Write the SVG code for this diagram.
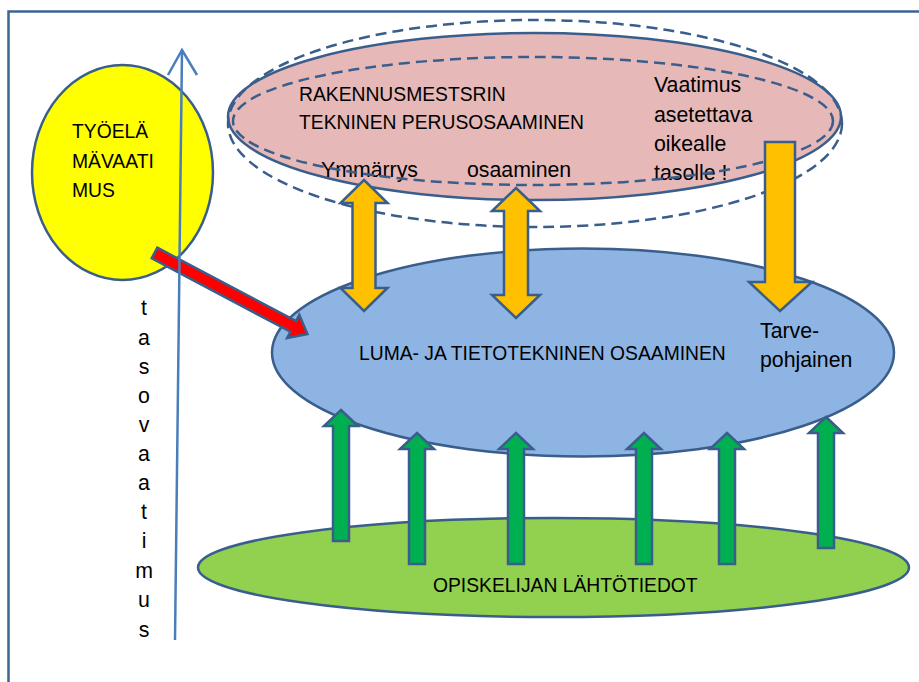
<svg xmlns="http://www.w3.org/2000/svg" xmlns:xlink="http://www.w3.org/1999/xlink" width="919" height="682" viewBox="0 0 919 682">
  <style>
    .shape { stroke: #3a5e8c; stroke-width: 2.5; }
    .dash { fill: none; stroke: #3a5e8c; stroke-width: 2.5; stroke-dasharray: 11 6; }
    .txt { font-family: "Liberation Sans", Arial, sans-serif; fill: #000; }
    .caps { font-size: 19.3px; }
    .low { font-size: 21.3px; }
    .axis { stroke: #4a7ebb; stroke-width: 2.5; fill: none; }
  </style>
  <defs>
    <!-- upward block arrow, tip at origin -->
    <path id="up" d="M0,0 L17,16 L8,16 L8,131 L-8,131 L-8,16 L-17,16 Z" fill="#00b050" stroke="#3a5e8c" stroke-width="2.5" stroke-linejoin="miter"/>
  </defs>

  <rect width="919" height="682" fill="#ffffff"/>

  <!-- frame -->
  <path d="M8.5,682 V11.5 H919" fill="none" stroke="#3c6494" stroke-width="2.5"/>

  <!-- working-life requirement -->
  <g id="tyoelama">
    <ellipse cx="122.5" cy="172.5" rx="90.5" ry="107.5" fill="#ffff00" class="shape"/>
    <text class="txt caps" x="72" y="138">TYÖELÄ</text>
    <text class="txt caps" x="72" y="168">MÄVAATI</text>
    <text class="txt caps" x="72" y="197">MUS</text>
  </g>

  <!-- construction foreman core competence -->
  <g id="perusosaaminen">
    <ellipse cx="534.5" cy="116.5" rx="306.5" ry="83.5" fill="#e6b9b8" class="shape"/>
    <text class="txt caps" x="299" y="101">RAKENNUSMESTSRIN</text>
    <text class="txt caps" x="299" y="129">TEKNINEN PERUSOSAAMINEN</text>
    <text class="txt low" x="321" y="177">Ymmärrys</text>
    <text class="txt low" x="467" y="177">osaaminen</text>
    <text class="txt low" x="654" y="92">Vaatimus</text>
    <text class="txt low" x="654" y="122">asetettava</text>
    <text class="txt low" x="654" y="151">oikealle</text>
    <text class="txt low" x="654" y="180">tasolle !</text>
    <ellipse cx="535" cy="123.5" rx="307" ry="103.5" class="dash"/>
    <ellipse cx="533" cy="121" rx="300" ry="64" class="dash"/>
  </g>

  <!-- maths/science and ICT competence -->
  <g id="luma">
    <ellipse cx="583" cy="352.5" rx="311" ry="104" fill="#8eb4e3" class="shape"/>
    <text class="txt caps" x="359" y="360">LUMA- JA TIETOTEKNINEN OSAAMINEN</text>
    <text class="txt low" x="760" y="338">Tarve-</text>
    <text class="txt low" x="760" y="367">pohjainen</text>
  </g>

  <!-- student starting knowledge -->
  <g id="lahtotiedot">
    <ellipse cx="553.5" cy="567.5" rx="355.5" ry="49.5" fill="#92d050" class="shape"/>
    <text class="txt caps" x="433" y="592">OPISKELIJAN LÄHTÖTIEDOT</text>
  </g>

  <!-- level requirement label -->
  <g id="tasovaatimus" class="txt low" text-anchor="middle">
    <text x="144" y="315">t</text>
    <text x="144" y="345">a</text>
    <text x="144" y="374">s</text>
    <text x="144" y="403">o</text>
    <text x="144" y="432">v</text>
    <text x="144" y="461">a</text>
    <text x="144" y="490">a</text>
    <text x="144" y="519">t</text>
    <text x="144" y="548">i</text>
    <text x="144" y="578">m</text>
    <text x="144" y="607">u</text>
    <text x="144" y="637">s</text>
  </g>

  <!-- connectors -->
  <g id="connectors">
    <path d="M364,180 L387.5,203 L375.5,203 L375.5,288 L387.5,288 L364,311 L340.5,288 L352.5,288 L352.5,203 L340.5,203 Z" fill="#ffc000" class="shape"/>
    <path d="M516,188 L540,211 L528,211 L528,295 L540,295 L516,318 L492,295 L504,295 L504,211 L492,211 Z" fill="#ffc000" class="shape"/>
    <path d="M765,142 H795 V282 H812 L780,311 L749,282 H765 Z" fill="#ffc000" class="shape"/>

    <use xlink:href="#up" x="341" y="410"/>
    <use xlink:href="#up" x="417" y="433"/>
    <use xlink:href="#up" x="516" y="433"/>
    <use xlink:href="#up" x="644" y="433"/>
    <use xlink:href="#up" x="727" y="433"/>
    <use xlink:href="#up" x="826" y="419" transform="translate(0,-2)"/>

    <path d="M0,-6 H157 V-13 L173,0 L157,13 V6 H0 Z" transform="translate(154.5,253) rotate(27.9)" fill="#ff0000" class="shape"/>

    <!-- vertical level axis -->
    <line x1="175" y1="640" x2="182" y2="50" class="axis"/>
    <polyline points="168,75 182,50 197,75" class="axis"/>
  </g>
</svg>
